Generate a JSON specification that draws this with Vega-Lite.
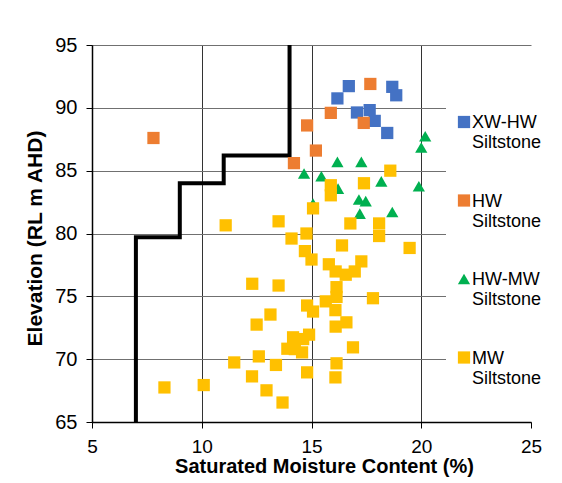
{
  "$schema": "https://vega.github.io/schema/vega-lite/v6.json",
  "width": 439,
  "height": 377,
  "autosize": "none",
  "padding": {"left": 92, "top": 45, "right": 31, "bottom": 61},
  "background": "white",
  "config": {"font": "Liberation Sans", "view": {"stroke": null}},
  "datasets": {
    "pts": [
      {"series": "XW-HW Siltstone", "smc": 16.70, "elev": 91.73},
      {"series": "XW-HW Siltstone", "smc": 16.18, "elev": 90.75},
      {"series": "XW-HW Siltstone", "smc": 18.68, "elev": 91.67},
      {"series": "XW-HW Siltstone", "smc": 18.86, "elev": 91.0},
      {"series": "XW-HW Siltstone", "smc": 17.07, "elev": 89.63},
      {"series": "XW-HW Siltstone", "smc": 17.65, "elev": 89.82},
      {"series": "XW-HW Siltstone", "smc": 17.88, "elev": 88.96},
      {"series": "XW-HW Siltstone", "smc": 18.45, "elev": 88.0},
      {"series": "HW Siltstone", "smc": 7.8, "elev": 87.6},
      {"series": "HW Siltstone", "smc": 17.68, "elev": 91.9},
      {"series": "HW Siltstone", "smc": 15.88, "elev": 89.6},
      {"series": "HW Siltstone", "smc": 17.38, "elev": 88.8},
      {"series": "HW Siltstone", "smc": 14.8, "elev": 88.6},
      {"series": "HW Siltstone", "smc": 15.2, "elev": 86.6},
      {"series": "HW Siltstone", "smc": 14.2, "elev": 85.6},
      {"series": "HW-MW Siltstone", "smc": 16.18, "elev": 85.7},
      {"series": "HW-MW Siltstone", "smc": 17.27, "elev": 85.7},
      {"series": "HW-MW Siltstone", "smc": 20.18, "elev": 87.74},
      {"series": "HW-MW Siltstone", "smc": 20.0, "elev": 86.84},
      {"series": "HW-MW Siltstone", "smc": 14.66, "elev": 84.77},
      {"series": "HW-MW Siltstone", "smc": 15.45, "elev": 84.55},
      {"series": "HW-MW Siltstone", "smc": 16.21, "elev": 83.57},
      {"series": "HW-MW Siltstone", "smc": 18.18, "elev": 84.15},
      {"series": "HW-MW Siltstone", "smc": 19.89, "elev": 83.76},
      {"series": "HW-MW Siltstone", "smc": 15.07, "elev": 82.38},
      {"series": "HW-MW Siltstone", "smc": 17.16, "elev": 82.7},
      {"series": "HW-MW Siltstone", "smc": 17.47, "elev": 82.58},
      {"series": "HW-MW Siltstone", "smc": 17.2, "elev": 81.58},
      {"series": "HW-MW Siltstone", "smc": 18.68, "elev": 81.71},
      {"series": "MW Siltstone", "smc": 18.59, "elev": 85.0},
      {"series": "MW Siltstone", "smc": 17.39, "elev": 84.0},
      {"series": "MW Siltstone", "smc": 15.88, "elev": 83.84},
      {"series": "MW Siltstone", "smc": 15.88, "elev": 83.04},
      {"series": "MW Siltstone", "smc": 15.07, "elev": 82.0},
      {"series": "MW Siltstone", "smc": 13.5, "elev": 80.97},
      {"series": "MW Siltstone", "smc": 16.77, "elev": 80.8},
      {"series": "MW Siltstone", "smc": 18.08, "elev": 80.8},
      {"series": "MW Siltstone", "smc": 18.08, "elev": 79.8},
      {"series": "MW Siltstone", "smc": 14.77, "elev": 80.0},
      {"series": "MW Siltstone", "smc": 14.09, "elev": 79.6},
      {"series": "MW Siltstone", "smc": 11.09, "elev": 80.65},
      {"series": "MW Siltstone", "smc": 16.39, "elev": 79.05},
      {"series": "MW Siltstone", "smc": 19.47, "elev": 78.85},
      {"series": "MW Siltstone", "smc": 14.7, "elev": 78.6},
      {"series": "MW Siltstone", "smc": 15.0, "elev": 77.93},
      {"series": "MW Siltstone", "smc": 15.79, "elev": 77.55},
      {"series": "MW Siltstone", "smc": 17.27, "elev": 77.78},
      {"series": "MW Siltstone", "smc": 16.1, "elev": 76.98},
      {"series": "MW Siltstone", "smc": 16.56, "elev": 76.72},
      {"series": "MW Siltstone", "smc": 16.97, "elev": 76.98},
      {"series": "MW Siltstone", "smc": 13.5, "elev": 75.86},
      {"series": "MW Siltstone", "smc": 12.3, "elev": 76.0},
      {"series": "MW Siltstone", "smc": 16.14, "elev": 75.73},
      {"series": "MW Siltstone", "smc": 16.14, "elev": 74.95},
      {"series": "MW Siltstone", "smc": 17.8, "elev": 74.85},
      {"series": "MW Siltstone", "smc": 15.65, "elev": 74.6},
      {"series": "MW Siltstone", "smc": 14.8, "elev": 74.27},
      {"series": "MW Siltstone", "smc": 15.07, "elev": 73.79},
      {"series": "MW Siltstone", "smc": 16.09, "elev": 73.9},
      {"series": "MW Siltstone", "smc": 13.13, "elev": 73.55},
      {"series": "MW Siltstone", "smc": 16.1, "elev": 72.59},
      {"series": "MW Siltstone", "smc": 16.59, "elev": 72.93},
      {"series": "MW Siltstone", "smc": 12.5, "elev": 72.75},
      {"series": "MW Siltstone", "smc": 14.16, "elev": 71.74},
      {"series": "MW Siltstone", "smc": 14.89, "elev": 71.95},
      {"series": "MW Siltstone", "smc": 14.62, "elev": 71.6},
      {"series": "MW Siltstone", "smc": 13.9, "elev": 70.83},
      {"series": "MW Siltstone", "smc": 14.24, "elev": 70.8},
      {"series": "MW Siltstone", "smc": 14.57, "elev": 70.54},
      {"series": "MW Siltstone", "smc": 16.89, "elev": 70.94},
      {"series": "MW Siltstone", "smc": 12.6, "elev": 70.22},
      {"series": "MW Siltstone", "smc": 11.48, "elev": 69.74},
      {"series": "MW Siltstone", "smc": 13.38, "elev": 69.54},
      {"series": "MW Siltstone", "smc": 16.14, "elev": 69.67},
      {"series": "MW Siltstone", "smc": 14.8, "elev": 68.95},
      {"series": "MW Siltstone", "smc": 16.09, "elev": 68.55},
      {"series": "MW Siltstone", "smc": 12.29, "elev": 68.63},
      {"series": "MW Siltstone", "smc": 12.95, "elev": 67.52},
      {"series": "MW Siltstone", "smc": 13.68, "elev": 66.55},
      {"series": "MW Siltstone", "smc": 8.3, "elev": 67.75},
      {"series": "MW Siltstone", "smc": 10.09, "elev": 67.94}
    ],
    "bound": [
      {"i": 1, "smc": 14, "elev": 95},
      {"i": 2, "smc": 14, "elev": 86.2},
      {"i": 3, "smc": 11, "elev": 86.2},
      {"i": 4, "smc": 11, "elev": 84},
      {"i": 5, "smc": 9, "elev": 84},
      {"i": 6, "smc": 9, "elev": 79.7},
      {"i": 7, "smc": 7, "elev": 79.7},
      {"i": 8, "smc": 7, "elev": 65}
    ]
  },
  "encoding": {
    "x": {
      "field": "smc", "type": "quantitative",
      "scale": {"domain": [5, 25], "nice": false, "zero": false},
      "axis": {
        "title": "Saturated Moisture Content (%)",
        "values": [5, 10, 15, 20, 25],
        "grid": true, "gridColor": "#333333", "gridWidth": 1,
        "gridOpacity": {"condition": {"test": "datum.value == 25", "value": 0}, "value": 1},
        "domainColor": "#000000", "domainWidth": 1.5,
        "tickColor": "#000000", "tickSize": 6,
        "labelFontSize": 19, "labelColor": "#000000", "labelPadding": 9, "labelFlush": false,
        "titleFontSize": 20, "titleFontWeight": "bold", "titleColor": "#000000",
        "titleBaseline": "alphabetic", "titleY": 50, "titleX": 232, "titleAnchor": "middle"
      }
    },
    "y": {
      "field": "elev", "type": "quantitative",
      "scale": {"domain": [65, 95], "nice": false, "zero": false},
      "axis": {
        "title": "Elevation (RL m AHD)",
        "values": [65, 70, 75, 80, 85, 90, 95],
        "grid": true, "gridColor": "#707070", "gridWidth": 1,
        "domainColor": "#000000", "domainWidth": 1.5,
        "tickColor": "#000000", "tickSize": 6,
        "labelFontSize": 20, "labelColor": "#000000", "labelPadding": 9,
        "titleFontSize": 21, "titleFontWeight": "bold", "titleColor": "#000000",
        "titleBaseline": "alphabetic", "titleX": -51, "titleY": 193, "titleAnchor": "middle"
      }
    }
  },
  "layer": [
    {
      "data": {"name": "bound"},
      "mark": {"type": "line", "color": "#000000", "strokeWidth": 4, "strokeJoin": "miter", "strokeCap": "butt"},
      "encoding": {"order": {"field": "i", "type": "quantitative"}}
    },
    {
      "data": {"name": "pts"},
      "mark": {"type": "point", "filled": true, "opacity": 1, "size": 150},
      "encoding": {
        "size": {
          "field": "series", "type": "nominal",
          "scale": {"domain": ["XW-HW Siltstone", "HW Siltstone", "HW-MW Siltstone", "MW Siltstone"],
                    "range": [150, 150, 230, 150]},
          "legend": null
        },
        "color": {
          "field": "series", "type": "nominal",
          "scale": {"domain": ["XW-HW Siltstone", "HW Siltstone", "HW-MW Siltstone", "MW Siltstone"],
                    "range": ["#4472C4", "#ED7D31", "#00B050", "#FFC000"]},
          "legend": {
            "title": null, "orient": "none", "legendX": 354, "legendY": 59,
            "fillColor": "white", "padding": 9,
            "labelExpr": "split(datum.label, ' ')",
            "labelFontSize": 18, "labelColor": "#000000", "labelBaseline": "top",
            "labelLimit": 200, "labelOffset": -1,
            "symbolSize": 130, "symbolOpacity": 1, "symbolStrokeWidth": 0,
            "rowPadding": 39.5,
            "encode": {"labels": {"update": {"dy": {"value": -8}}}}
          }
        },
        "shape": {
          "field": "series", "type": "nominal",
          "scale": {"domain": ["XW-HW Siltstone", "HW Siltstone", "HW-MW Siltstone", "MW Siltstone"],
                    "range": ["square", "square", "triangle-up", "square"]}
        }
      }
    }
  ]
}
